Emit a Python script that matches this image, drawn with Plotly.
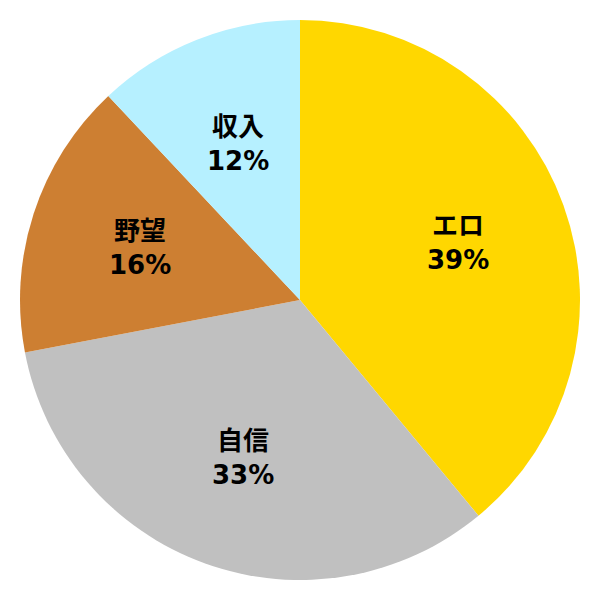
import math
import plotly.graph_objects as go

labels = ["エロ", "自信", "野望", "収入"]
values = [39, 33, 16, 12]
colors = ["#FFD700", "#C0C0C0", "#CD7F32", "#B6F0FF"]

fig = go.Figure(go.Pie(
    labels=labels,
    values=values,
    sort=False,
    direction="clockwise",
    rotation=0,
    marker=dict(colors=colors, line=dict(width=0)),
    textinfo="none",
    hoverinfo="label+percent",
    showlegend=False,
))

# labels sit at 60% of the radius along each slice's middle angle
total = sum(values)
start = 0
for lab, v in zip(labels, values):
    mid = (start + v / 2) / total * 2 * math.pi
    start += v
    fig.add_annotation(
        x=0.5 + 0.3 * math.sin(mid),
        y=0.5 + 0.3 * math.cos(mid),
        xref="paper", yref="paper",
        xanchor="center", yanchor="middle",
        text="<b>%s<br>%d%%</b>" % (lab, round(v / total * 100)),
        showarrow=False,
        font=dict(family="DejaVu Sans, Noto Sans CJK JP", size=26, color="black"),
    )

# page body adds 8px, so shift the margins to centre the circle
fig.update_layout(
    width=600, height=600,
    margin=dict(l=12, r=28, t=12, b=28),
    paper_bgcolor="white",
    plot_bgcolor="white",
)

fig.write_html("out.html")
